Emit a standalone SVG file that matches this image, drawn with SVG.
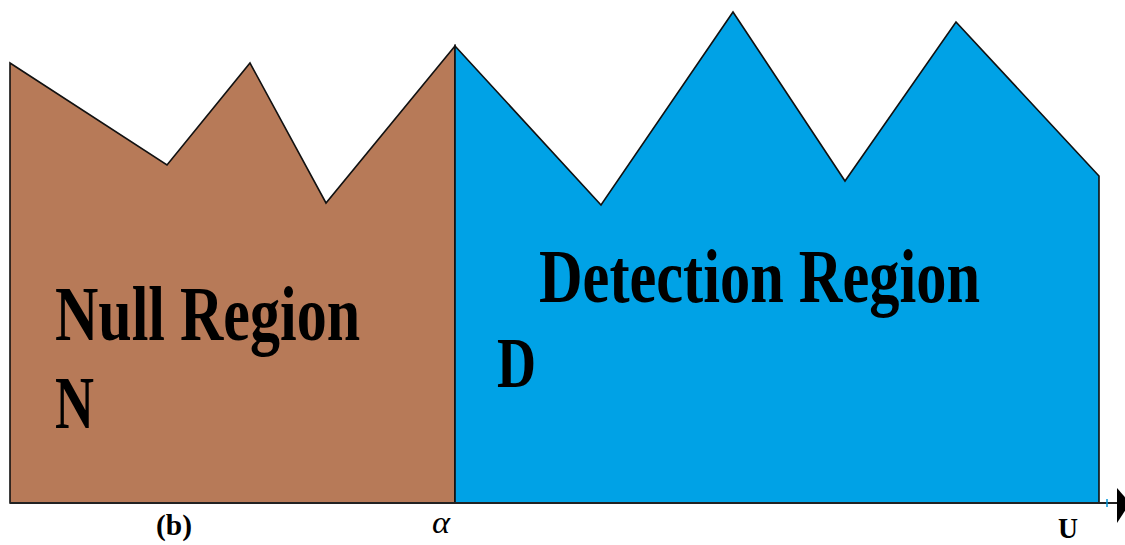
<svg xmlns="http://www.w3.org/2000/svg" width="1125" height="545" viewBox="0 0 1125 545">
<style>
.reg{stroke:#111;stroke-width:1.6;stroke-linejoin:miter}
.lbl{font-family:"Liberation Serif","Times New Roman",serif;font-weight:bold;fill:#000}
.ax{font-family:"Liberation Serif","Times New Roman",serif;fill:#000}
</style>
<rect width="1125" height="545" fill="#fff"/>
<g id="null-region">
<polygon class="reg" fill="#B77A58" points="10,63 167,165 250,63 326,203 455,46 455,503 10,503"/>
<text class="lbl" x="55" y="340" font-size="78" textLength="305" lengthAdjust="spacingAndGlyphs">Null Region</text>
<text class="lbl" x="55" y="428" font-size="74" textLength="39" lengthAdjust="spacingAndGlyphs">N</text>
</g>
<g id="detection-region">
<polygon class="reg" fill="#00A2E6" points="455,46 601,205 733,12 845,181 956,22 1099,176 1099,503 455,503"/>
<text class="lbl" x="539" y="302" font-size="77" textLength="441" lengthAdjust="spacingAndGlyphs">Detection Region</text>
<text class="lbl" x="497" y="387" font-size="72" textLength="39" lengthAdjust="spacingAndGlyphs">D</text>
</g>
<g id="axis">
<line x1="10" y1="503" x2="1118" y2="503" stroke="#222" stroke-width="2"/>
<line x1="1107" y1="499" x2="1107" y2="507" stroke="#0094d8" stroke-width="1.5"/>
<polygon points="1117,488 1130,503 1117,523" fill="#000"/>
</g>
<g id="labels">
<text class="ax" font-weight="bold" x="156" y="535" font-size="29" textLength="36" lengthAdjust="spacingAndGlyphs">(b)</text>
<text class="ax" font-style="italic" x="432" y="533" font-size="32" textLength="18" lengthAdjust="spacingAndGlyphs">α</text>
<text class="ax" font-weight="bold" x="1058" y="538" font-size="30" textLength="20" lengthAdjust="spacingAndGlyphs">U</text>
</g>
</svg>
